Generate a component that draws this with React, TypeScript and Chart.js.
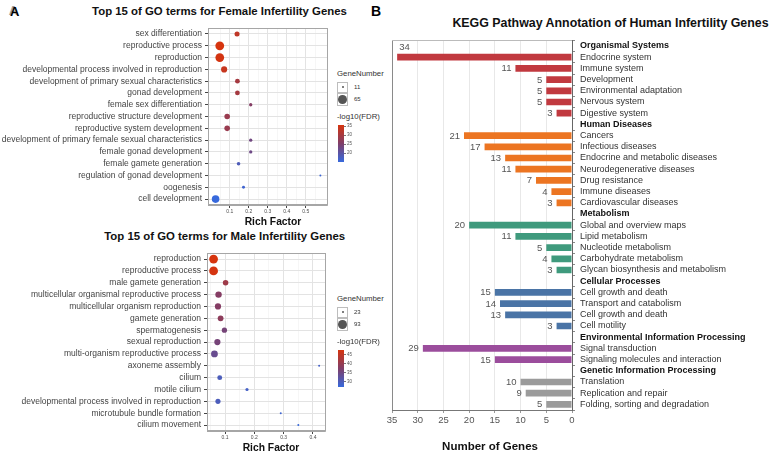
import React, { useEffect, useRef } from 'react';
import { Chart, registerables } from 'chart.js';
Chart.register(...registerables);

const FONT = '"Liberation Sans", Arial, Helvetica, sans-serif';
Chart.defaults.font.family = FONT;

// ---------- Female GO terms ----------
const femaleTerms = [
  'sex differentiation',
  'reproductive process',
  'reproduction',
  'developmental process involved in reproduction',
  'development of primary sexual characteristics',
  'gonad development',
  'female sex differentiation',
  'reproductive structure development',
  'reproductive system development',
  'development of primary female sexual characteristics',
  'female gonad development',
  'female gamete generation',
  'regulation of gonad development',
  'oogenesis',
  'cell development',
];
const femaleRich = [0.138, 0.047, 0.047, 0.07, 0.14, 0.14, 0.21, 0.086, 0.086, 0.21, 0.21, 0.146, 0.577, 0.172, 0.025];
const femaleGenes = [22, 65, 64, 31, 20, 20, 13, 26, 26, 13, 13, 14, 11, 12, 48];
const femaleFdr = [33, 35.8, 35.5, 34, 30, 30, 26, 28.5, 28.5, 23.5, 23, 18.5, 16, 16.5, 15.3];
const femaleMajorTicks = [0.1, 0.2, 0.3, 0.4, 0.5];
const femaleMinorTicks = [0.05, 0.15, 0.25, 0.35, 0.45, 0.55];
const femaleSizeBreaks = [11, 65];
const femaleColorBreaks = [20, 25, 30, 35];

// ---------- Male GO terms ----------
const maleTerms = [
  'reproduction',
  'reproductive process',
  'male gamete generation',
  'multicellular organismal reproductive process',
  'multicellular organism reproduction',
  'gamete generation',
  'spermatogenesis',
  'sexual reproduction',
  'multi-organism reproductive process',
  'axoneme assembly',
  'cilium',
  'motile cilium',
  'developmental process involved in reproduction',
  'microtubule bundle formation',
  'cilium movement',
];
const maleRich = [0.061, 0.061, 0.102, 0.078, 0.076, 0.085, 0.098, 0.074, 0.064, 0.421, 0.082, 0.175, 0.076, 0.29, 0.35];
const maleGenes = [93, 93, 42, 53, 50, 45, 39, 50, 58, 23, 36, 25, 38, 23, 23];
const maleFdr = [47.8, 47.5, 41, 38, 38, 39, 36, 36, 34, 29, 30, 29, 30, 28, 27];
const maleMajorTicks = [0.1, 0.2, 0.3, 0.4];
const maleMinorTicks = [0.05, 0.15, 0.25, 0.35];
const maleSizeBreaks = [23, 93];
const maleColorBreaks = [30, 35, 40, 45];

// ---------- KEGG ----------
const keggGroups = [
  'Organismal Systems',
  'Human Diseases',
  'Metabolism',
  'Cellular Processes',
  'Environmental Information Processing',
  'Genetic Information Processing',
];
const keggGroupColors = ['#c1393f', '#ec7522', '#3f9a7d', '#4a74a6', '#9b4d9c', '#9b9b9b'];
const organismalTerms = ['Endocrine system', 'Immune system', 'Development', 'Environmental adaptation', 'Nervous system', 'Digestive system'];
const organismalCounts = [34, 11, 5, 5, 5, 3];
const diseaseTerms = ['Cancers', 'Infectious diseases', 'Endocrine and metabolic diseases', 'Neurodegenerative diseases', 'Drug resistance', 'Immune diseases', 'Cardiovascular diseases'];
const diseaseCounts = [21, 17, 13, 11, 7, 4, 3];
const metabolismTerms = ['Global and overview maps', 'Lipid metabolism', 'Nucleotide metabolism', 'Carbohydrate metabolism', 'Glycan biosynthesis and metabolism'];
const metabolismCounts = [20, 11, 5, 4, 3];
const cellularTerms = ['Cell growth and death', 'Transport and catabolism', 'Cell growth and death', 'Cell motility'];
const cellularCounts = [15, 14, 13, 3];
const envTerms = ['Signal transduction', 'Signaling molecules and interaction'];
const envCounts = [29, 15];
const geneticTerms = ['Translation', 'Replication and repair', 'Folding, sorting and degradation'];
const geneticCounts = [10, 9, 5];
const keggTicks = [0, 5, 10, 15, 20, 25, 30, 35];

const keggTermLists = [organismalTerms, diseaseTerms, metabolismTerms, cellularTerms, envTerms, geneticTerms];
const keggCountLists = [organismalCounts, diseaseCounts, metabolismCounts, cellularCounts, envCounts, geneticCounts];

// ---------- helpers ----------
const LOW = [55, 105, 220];
const MID = [128, 62, 105];
const HIGH = [214, 52, 14];
function mix(a: number[], b: number[], t: number) {
  return a.map((v, i) => Math.round(v + (b[i] - v) * t));
}
function fdrColor(v: number, min: number, max: number) {
  const t = Math.max(0, Math.min(1, (v - min) / (max - min)));
  const c = t < 0.5 ? mix(LOW, MID, t * 2) : mix(MID, HIGH, (t - 0.5) * 2);
  return `rgb(${c[0]},${c[1]},${c[2]})`;
}
const R_MIN = 1;
const R_MAX = 4.4;
function sizeRadius(v: number, min: number, max: number) {
  const t = Math.max(0, (v - min) / (max - min));
  return R_MIN + (R_MAX - R_MIN) * Math.sqrt(t);
}

const framePlugin = {
  id: 'frame',
  afterDatasetsDraw(chart: any) {
    const { ctx, chartArea: a } = chart;
    ctx.save();
    ctx.strokeStyle = '#a6a6a6';
    ctx.lineWidth = 1;
    ctx.strokeRect(Math.round(a.left) + 0.5, Math.round(a.top) + 0.5, Math.round(a.right - a.left) - 1, Math.round(a.bottom - a.top) - 1);
    ctx.restore();
  },
};

type Geom = { left: number; top: number; width: number; height: number; padTop: number; padRight: number; yWidth: number; xHeight: number };

function DotPlot(props: {
  terms: string[]; rich: number[]; genes: number[]; fdr: number[];
  xMin: number; xMax: number; majors: number[]; minors: number[]; geom: Geom;
}) {
  const ref = useRef<HTMLCanvasElement>(null);
  const { terms, rich, genes, fdr, xMin, xMax, majors, minors, geom } = props;
  useEffect(() => {
    const gMin = Math.min(...genes), gMax = Math.max(...genes);
    const fMin = Math.min(...fdr), fMax = Math.max(...fdr);
    const allTicks = [...majors, ...minors].sort((a, b) => a - b);
    const isMajor = (v: number) => majors.some((m) => Math.abs(m - v) < 1e-9);
    const chart = new Chart(ref.current as HTMLCanvasElement, {
      type: 'scatter',
      data: {
        datasets: [
          {
            data: terms.map((t, i) => ({ x: rich[i], y: t })) as any,
            pointRadius: genes.map((g) => sizeRadius(g, gMin, gMax)),
            pointBackgroundColor: fdr.map((f) => fdrColor(f, fMin, fMax)),
            pointBorderWidth: 0,
            borderWidth: 0,
          },
        ],
      },
      options: {
        animation: false,
        responsive: false,
        maintainAspectRatio: false,
        events: [],
        layout: { padding: { top: geom.padTop, right: geom.padRight, left: 0, bottom: 0 } },
        plugins: { legend: { display: false }, tooltip: { enabled: false } },
        scales: {
          x: {
            type: 'linear',
            min: xMin,
            max: xMax,
            afterBuildTicks: (s: any) => {
              s.ticks = allTicks.map((v) => ({ value: v }));
            },
            afterFit: (s: any) => {
              s.height = geom.xHeight;
            },
            ticks: {
              autoSkip: false,
              maxRotation: 0,
              padding: 0.5,
              font: { size: 5 },
              color: '#4d4d4d',
              callback: (v: any) => (isMajor(Number(v)) ? String(v) : ''),
            },
            grid: {
              color: (c: any) => (isMajor(c.tick.value) ? '#e3e3e3' : '#f0f0f0'),
              lineWidth: (c: any) => (isMajor(c.tick.value) ? 1 : 0.6),
              tickLength: 3,
              tickColor: (c: any) => (isMajor(c.tick.value) ? '#444' : 'rgba(0,0,0,0)'),
            },
            border: { display: true, color: '#a6a6a6' },
          },
          y: {
            type: 'category',
            labels: terms,
            offset: true,
            afterFit: (s: any) => {
              s.width = geom.yWidth;
            },
            ticks: { autoSkip: false, padding: 3, font: { size: 8.5 }, color: '#444' },
            grid: { color: '#e3e3e3', tickLength: 3, tickColor: '#444' },
            border: { display: true, color: '#a6a6a6' },
          },
        },
      } as any,
      plugins: [framePlugin],
    });
    return () => chart.destroy();
  }, []);
  return (
    <canvas
      ref={ref}
      width={geom.width}
      height={geom.height}
      style={{ position: 'absolute', left: geom.left, top: geom.top, width: geom.width, height: geom.height }}
    />
  );
}

function Txt(props: { x: number; y: number; size: number; bold?: boolean; color?: string; align?: 'left' | 'center' | 'right'; children: any; style?: any }) {
  const { x, y, size, bold, color = '#000', align = 'center', children, style } = props;
  const tx = align === 'center' ? '-50%' : align === 'right' ? '-100%' : '0';
  return (
    <div
      style={{
        position: 'absolute', left: x, top: y, transform: `translate(${tx},-50%)`, fontSize: size,
        fontWeight: bold ? 700 : 400, color, whiteSpace: 'nowrap', lineHeight: 1, fontFamily: FONT, ...style,
      }}
    >
      {children}
    </div>
  );
}

function DotLegend(props: { x: number; y: number; sizeBreaks: number[]; genes: number[]; colorBreaks: number[]; fdr: number[] }) {
  const { x, y, sizeBreaks, genes, colorBreaks, fdr } = props;
  const gMin = Math.min(...genes), gMax = Math.max(...genes);
  const fMin = Math.min(...fdr), fMax = Math.max(...fdr);
  const boxes = [
    { top: y + 7.5, h: 11.6 },
    { top: y + 19.1, h: 12.7 },
  ];
  const cbTop = y + 50.5;
  const cbH = 37.6;
  const grad = `linear-gradient(to top, rgb(${LOW.join(',')}), rgb(${MID.join(',')}), rgb(${HIGH.join(',')}))`;
  return (
    <>
      <Txt x={x} y={y} size={7.8} align="left" color="#333">GeneNumber</Txt>
      {sizeBreaks.map((b, i) => {
        const r = sizeRadius(b, gMin, gMax);
        const bx = boxes[i];
        return (
          <React.Fragment key={i}>
            <div style={{ position: 'absolute', left: x, top: bx.top, width: 11, height: bx.h, boxSizing: 'border-box', border: '0.8px solid #bdbdbd', background: '#fff' }} />
            <div style={{ position: 'absolute', left: x + 5.5 - r, top: bx.top + bx.h / 2 - r, width: 2 * r, height: 2 * r, borderRadius: '50%', background: '#555' }} />
            <Txt x={x + 17} y={bx.top + bx.h / 2} size={6} align="left" color="#333">{String(b)}</Txt>
          </React.Fragment>
        );
      })}
      <Txt x={x} y={y + 43} size={7.8} align="left" color="#333">-log10(FDR)</Txt>
      <div style={{ position: 'absolute', left: x + 0.5, top: cbTop, width: 6.8, height: cbH, background: grad }} />
      {colorBreaks.map((b, i) => {
        const ty = cbTop + ((fMax - b) / (fMax - fMin)) * cbH;
        return (
          <React.Fragment key={'c' + i}>
            <div style={{ position: 'absolute', left: x + 7.3, top: ty - 0.3, width: 1.8, height: 0.6, background: '#777' }} />
            <Txt x={x + 10} y={ty} size={4.5} align="left" color="#555">{String(b)}</Txt>
          </React.Fragment>
        );
      })}
    </>
  );
}

function KeggChart() {
  const ref = useRef<HTMLCanvasElement>(null);
  const W = 392, H = 423;
  useEffect(() => {
    const labels: string[] = [];
    const values: (number | null)[] = [];
    const colors: string[] = [];
    const header: boolean[] = [];
    keggGroups.forEach((g, gi) => {
      labels.push(g); values.push(null); colors.push(keggGroupColors[gi]); header.push(true);
      keggTermLists[gi].forEach((t, ti) => {
        labels.push(t); values.push(keggCountLists[gi][ti]); colors.push(keggGroupColors[gi]); header.push(false);
      });
    });
    const valueLabels = {
      id: 'valueLabels',
      afterDatasetsDraw(chart: any) {
        const ctx = chart.ctx;
        const meta = chart.getDatasetMeta(0);
        ctx.save();
        ctx.font = `9.5px ${FONT}`;
        ctx.fillStyle = '#555';
        ctx.textBaseline = 'middle';
        meta.data.forEach((bar: any, i: number) => {
          const v = values[i];
          if (v == null) return;
          const text = String(v);
          const w = ctx.measureText(text).width;
          if (bar.x - 4 - w < chart.chartArea.left) {
            ctx.textAlign = 'left';
            ctx.fillText(text, bar.x + 2, bar.y - 9.4);
          } else {
            ctx.textAlign = 'right';
            ctx.fillText(text, bar.x - 4, bar.y + 0.3);
          }
        });
        const a = chart.chartArea;
        ctx.strokeStyle = '#bbbbbb';
        ctx.lineWidth = 1;
        ctx.beginPath();
        ctx.moveTo(a.left, Math.round(a.top) + 0.5);
        ctx.lineTo(a.right, Math.round(a.top) + 0.5);
        ctx.stroke();
        ctx.restore();
      },
    };
    const chart = new Chart(ref.current as HTMLCanvasElement, {
      type: 'bar',
      data: {
        labels,
        datasets: [{ data: values as any, backgroundColor: colors, barPercentage: 0.6, categoryPercentage: 1, borderWidth: 0 }],
      },
      options: {
        indexAxis: 'y',
        animation: false,
        responsive: false,
        maintainAspectRatio: false,
        events: [],
        layout: { padding: { left: 12, top: 9, right: 0, bottom: 0 } },
        plugins: { legend: { display: false }, tooltip: { enabled: false } },
        scales: {
          x: {
            type: 'linear',
            reverse: true,
            min: 0,
            max: 35,
            afterBuildTicks: (s: any) => {
              s.ticks = keggTicks.map((v) => ({ value: v }));
            },
            afterFit: (s: any) => {
              s.height = 43;
            },
            ticks: { autoSkip: false, maxRotation: 0, padding: 2, font: { size: 9.5 }, color: '#555' },
            grid: {
              color: (c: any) => (c.tick.value === 35 ? '#8a8a8a' : '#e8e8e8'),
              tickLength: 3,
              tickColor: '#999',
            },
            border: { display: true, color: '#777' },
          },
          y: {
            type: 'category',
            position: 'right',
            afterFit: (s: any) => {
              s.width = 200;
            },
            ticks: {
              autoSkip: false,
              padding: 5,
              font: (c: any) => ({ size: 9, weight: header[c.index] ? 'bold' : 'normal', family: FONT }),
              color: (c: any) => (header[c.index] ? '#111' : '#333'),
            },
            grid: { drawOnChartArea: false, tickLength: 3, color: '#888' },
            border: { display: true, color: '#666' },
          },
        },
      } as any,
      plugins: [valueLabels],
    });
    return () => chart.destroy();
  }, []);
  return <canvas ref={ref} width={W} height={H} style={{ position: 'absolute', left: 380, top: 30, width: W, height: H }} />;
}

export default function App() {
  const femaleGeom: Geom = { left: 0, top: 20, width: 332, height: 198, padTop: 5, padRight: 4, yWidth: 208, xHeight: 13 };
  const maleGeom: Geom = { left: 0, top: 245, width: 330, height: 200, padTop: 6, padRight: 4, yWidth: 207, xHeight: 14 };
  return (
    <div style={{ position: 'absolute', left: 0, top: 0, width: 772, height: 453, overflow: 'hidden', background: '#fff', fontFamily: FONT }}>
      <Txt x={10} y={11} size={13} bold align="left" style={{ textShadow: '-1.2px -1px 0 #9a9a9a' }}>A</Txt>
      <Txt x={371} y={11} size={14} bold align="left">B</Txt>

      <Txt x={219.5} y={12} size={11.4} bold color="#111">Top 15 of GO terms for Female Infertility Genes</Txt>
      <DotPlot terms={femaleTerms} rich={femaleRich} genes={femaleGenes} fdr={femaleFdr} xMin={-0.015} xMax={0.615} majors={femaleMajorTicks} minors={femaleMinorTicks} geom={femaleGeom} />
      <Txt x={273} y={221.5} size={10.3} bold color="#111">Rich Factor</Txt>
      <DotLegend x={337} y={74} sizeBreaks={femaleSizeBreaks} genes={femaleGenes} colorBreaks={femaleColorBreaks} fdr={femaleFdr} />

      <Txt x={224.7} y={236.7} size={11.4} bold color="#111">Top 15 of GO terms for Male Infertility Genes</Txt>
      <DotPlot terms={maleTerms} rich={maleRich} genes={maleGenes} fdr={maleFdr} xMin={0.0386} xMax={0.443} majors={maleMajorTicks} minors={maleMinorTicks} geom={maleGeom} />
      <Txt x={271} y={447.5} size={10.3} bold color="#111">Rich Factor</Txt>
      <DotLegend x={337} y={299} sizeBreaks={maleSizeBreaks} genes={maleGenes} colorBreaks={maleColorBreaks} fdr={maleFdr} />

      <Txt x={610.5} y={22.7} size={12.4} bold color="#111">KEGG Pathway Annotation of Human Infertility Genes</Txt>
      <KeggChart />
      <Txt x={490} y={447.3} size={11.5} bold color="#111">Number of Genes</Txt>
    </div>
  );
}
